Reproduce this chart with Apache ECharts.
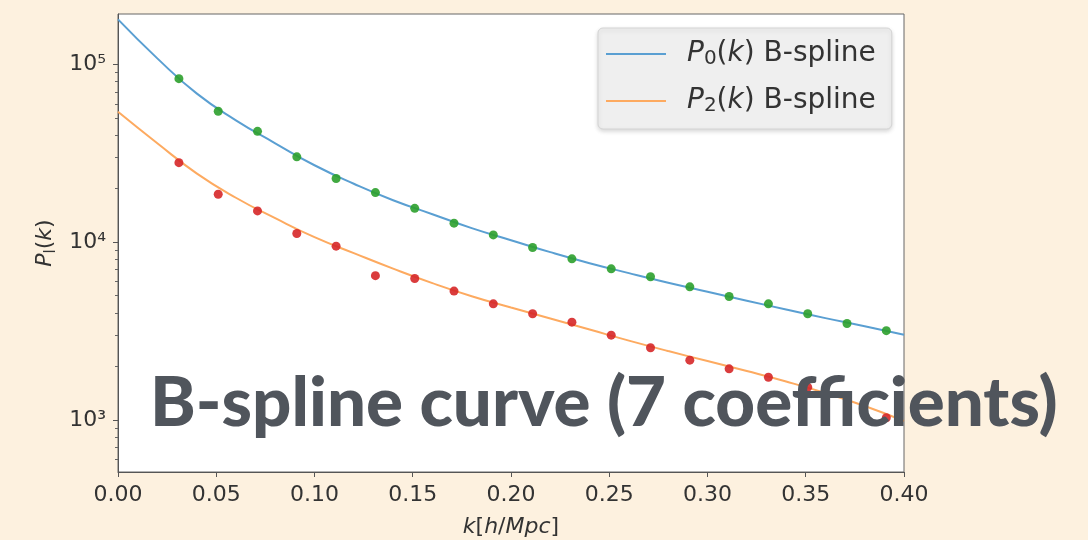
<!DOCTYPE html>
<html>
<head>
<meta charset="utf-8">
<script src="https://cdn.jsdelivr.net/npm/echarts@6/dist/echarts.min.js"></script>
<style>
html,body{margin:0;padding:0;background:#fdf1df;}
#main{width:1088px;height:540px;}
</style>
</head>
<body>
<div id="main"></div>
<script>
// B-spline curves, sampled along k
var kCurve = [0, 0.02, 0.04, 0.06, 0.08, 0.10, 0.12, 0.14, 0.16, 0.18, 0.20, 0.22, 0.24, 0.26, 0.28, 0.30, 0.32, 0.34, 0.36, 0.38, 0.40];
var p0Curve = [179000, 108100, 68700, 48450, 36000, 27080, 21320, 17220, 14370, 11990, 10260, 8790, 7620, 6700, 5920, 5270, 4690, 4180, 3740, 3370, 3020];
var p2Curve = [54100, 36000, 24400, 17780, 13640, 10670, 8680, 7100, 5885, 4970, 4290, 3720, 3225, 2796, 2441, 2145, 1885, 1646, 1418, 1198, 987];

// measured points
var kPts = [0.031, 0.051, 0.071, 0.091, 0.111, 0.131, 0.151, 0.171, 0.191, 0.211, 0.231, 0.251, 0.271, 0.291, 0.311, 0.331, 0.351, 0.371, 0.391];
var p0Pts = [83100, 54500, 42000, 30200, 22800, 19000, 15500, 12800, 10990, 9340, 8060, 7080, 6390, 5610, 4950, 4500, 3960, 3490, 3180];
var p2Pts = [28000, 18600, 15000, 11190, 9500, 6480, 6250, 5310, 4500, 3960, 3550, 3000, 2550, 2170, 1940, 1740, 1530, 1360, 1030];

var yMajor = [1000, 10000, 100000];
var yMinor = [600, 700, 800, 900, 2000, 3000, 4000, 5000, 6000, 7000, 8000, 9000,
  20000, 30000, 40000, 50000, 60000, 70000, 80000, 90000];
var yLabels = {1000: '10³', 10000: '10⁴', 100000: '10⁵'};

function pairs(xs, ys) {
  var out = [];
  for (var i = 0; i < xs.length; i++) out.push([xs[i], ys[i]]);
  return out;
}

//数学字体样式
function mathRich(size, lh) {
  return {
    f: {fontFamily: 'DejaVu Sans', fontStyle: 'italic', fontSize: size, color: '#333', lineHeight: lh, padding: [0, 0, 0, 16]},
    i: {fontFamily: 'DejaVu Sans', fontStyle: 'italic', fontSize: size, color: '#333', lineHeight: lh},
    n: {fontFamily: 'DejaVu Sans', fontSize: size, color: '#333', lineHeight: lh},
    s: {fontFamily: 'DejaVu Sans', fontSize: Math.round(size * 0.7), color: '#333', verticalAlign: 'bottom', lineHeight: Math.round(size * 0.7)}
  };
}

var myChart = echarts.init(document.getElementById('main'));

var option = {
  backgroundColor: '#fdf1df',
  animation: false,
  grid: {left: 118, right: 184, top: 14, bottom: 68, containLabel: false, outerBoundsMode: 'none',
    show: true, backgroundColor: '#fff', borderColor: '#666', borderWidth: 1},
  legend: {
    orient: 'vertical',
    left: 598, top: 28,
    data: [{name: 'P0', icon: 'rect'}, {name: 'P2', icon: 'rect'}],
    itemWidth: 60, itemHeight: 2, itemGap: 18, itemTextGap: 5,
    padding: [12, 16, 13, 8],
    backgroundColor: '#efefef', borderColor: '#d4d4d4', borderWidth: 1, borderRadius: 5,
    shadowBlur: 4, shadowOffsetY: 2, shadowColor: 'rgba(0,0,0,0.15)',
    formatter: function(name) {
      return '{f|P}{s|' + name.charAt(1) + '}{n|(}{i|k}{n|) B-spline}';
    },
    textStyle: {rich: mathRich(28, 30)}
  },
  xAxis: {
    type: 'value', min: 0, max: 0.4, interval: 0.05,
    axisLine: {lineStyle: {color: '#555'}},
    axisTick: {length: 5, lineStyle: {color: '#555'}},
    splitLine: {show: false},
    axisLabel: {fontFamily: 'DejaVu Sans', fontSize: 22, color: '#333', margin: 12,
      formatter: function(v) { return v.toFixed(2); }},
    name: '{i|k}{n|[}{i|h}{n|/}{i|Mpc}{n|]}',
    nameLocation: 'middle', nameGap: 42,
    nameTextStyle: {rich: mathRich(22, 26)}
  },
  yAxis: [{
    type: 'log', logBase: 10, min: 510, max: 192000,
    axisLine: {show: true, lineStyle: {color: '#555'}},
    axisTick: {show: true, length: 5, customValues: yMajor, lineStyle: {color: '#555'}},
    splitLine: {show: false},
    axisLabel: {customValues: yMajor, fontFamily: 'DejaVu Sans', fontSize: 22, color: '#333', margin: 12,
      formatter: function(v) { return yLabels[Math.round(v)] || ''; }},
    name: '{i|P}{s|l}{n|(}{i|k}{n|)}',
    nameLocation: 'middle', nameRotate: 90, nameGap: 59,
    nameTextStyle: {rich: mathRich(22, 26)}
  }, {
    type: 'log', logBase: 10, min: 510, max: 192000, position: 'left',
    axisLine: {show: false},
    axisTick: {show: true, length: 3, customValues: yMinor, lineStyle: {color: '#666'}},
    axisLabel: {show: false},
    splitLine: {show: false}
  }],
  series: [{
    name: 'P0', type: 'line', smooth: true, symbol: 'none',
    data: pairs(kCurve, p0Curve),
    color: '#5a9fd2',
    lineStyle: {width: 2, color: '#5a9fd2'}, z: 2
  }, {
    name: 'P2', type: 'line', smooth: true, symbol: 'none',
    data: pairs(kCurve, p2Curve),
    color: '#fdaa60',
    lineStyle: {width: 2, color: '#fdaa60'}, z: 2
  }, {
    name: 'P0 data', type: 'scatter', symbolSize: 9,
    data: pairs(kPts, p0Pts),
    itemStyle: {color: '#2ca02c', opacity: 0.9}, z: 3
  }, {
    name: 'P2 data', type: 'scatter', symbolSize: 9,
    data: pairs(kPts, p2Pts),
    itemStyle: {color: '#d62728', opacity: 0.9}, z: 3
  }],
  graphic: [{
    type: 'text', left: 150, top: 369, z: 100,
    style: {
      text: 'B-spline curve (7 coefficients)',
      fontFamily: 'Lato', fontWeight: 900, fontSize: 69,
      fill: '#50555c'
    }
  }]
};
myChart.setOption(option);
</script>
</body>
</html>
